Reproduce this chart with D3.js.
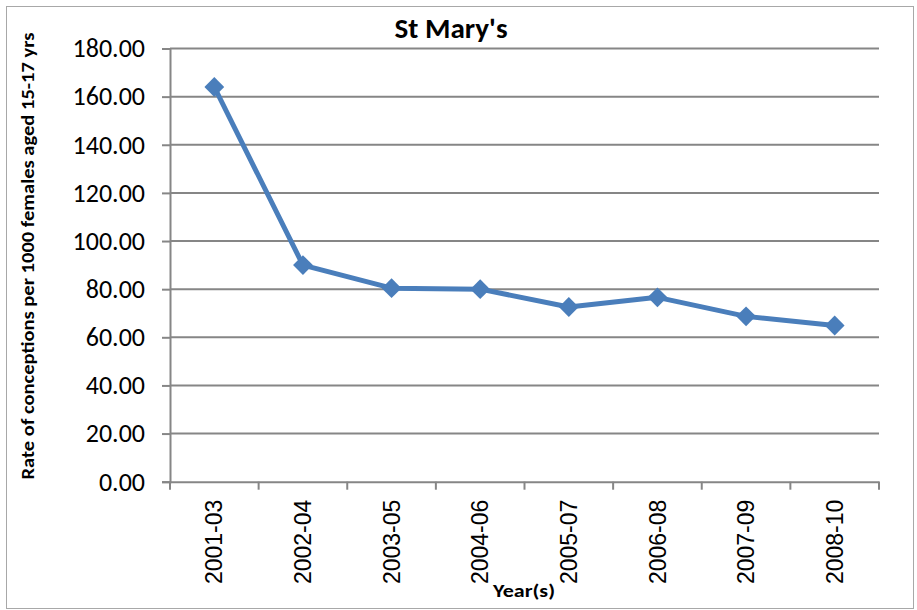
<!DOCTYPE html>
<html>
<head>
<meta charset="utf-8">
<script src="https://cdn.jsdelivr.net/npm/d3@7"></script>
<style>
  body { margin: 0; background: #fff; }
  svg { display: block; }
</style>
</head>
<body>
<svg></svg>
<script>
// data
var years = ["2001-03", "2002-04", "2003-05", "2004-06", "2005-07", "2006-08", "2007-09", "2008-10"];
var rates = [164.0, 90.0, 80.4, 80.0, 72.6, 76.6, 68.7, 64.9];
var yTicks = [0, 20, 40, 60, 80, 100, 120, 140, 160, 180];

var width = 917, height = 610;
var plotLeft = 170, plotRight = 879, plotTop = 48.5, plotBottom = 481.7;
var blue = "#4a7ebb", grid = "#868686";
var calibri = "Carlito, 'Open Sans', 'Liberation Sans', sans-serif";

var svg = d3.select("svg").attr("width", width).attr("height", height);

// chart border
svg.append("rect")
    .attr("x", 6.5).attr("y", 6.5)
    .attr("width", width - 10).attr("height", height - 8)
    .attr("fill", "none").attr("stroke", "#a8a8a8").attr("stroke-width", 1);

var x = d3.scaleBand().domain(years).range([plotLeft, plotRight]);
var y = d3.scaleLinear().domain([0, 180]).range([plotBottom, plotTop]);

// horizontal gridlines
svg.append("g")
    .selectAll("line")
    .data(yTicks.filter(d => d > 0))
    .enter()
    .append("line")
    .attr("x1", plotLeft).attr("x2", plotRight)
    .attr("y1", d => y(d)).attr("y2", d => y(d))
    .attr("stroke", grid).attr("stroke-width", 2);

// y axis
var yAxis = svg.append("g")
    .attr("transform", "translate(" + plotLeft + ",0)")
    .call(d3.axisLeft(y).tickValues(yTicks).tickSize(8).tickPadding(17)
        .tickFormat(d3.format(".2f")));
yAxis.select(".domain").attr("stroke", grid).attr("stroke-width", 2);
yAxis.selectAll(".tick line").attr("stroke", grid).attr("stroke-width", 2);
yAxis.selectAll(".tick text")
    .attr("font-family", calibri).attr("font-size", 26).attr("fill", "#000");

// x axis
var xAxis = svg.append("g")
    .attr("transform", "translate(0," + plotBottom + ")")
    .call(d3.axisBottom(x).tickSize(0).tickPadding(0));
xAxis.select(".domain").attr("stroke", grid).attr("stroke-width", 2);
xAxis.selectAll(".tick text")
    .attr("font-family", "'Liberation Sans', Arial, sans-serif")
    .attr("font-size", 23).attr("fill", "#000")
    .attr("text-anchor", "end")
    .attr("transform", "translate(0,18) rotate(-90)")
    .attr("dy", "0.35em").attr("x", 0).attr("y", 0);

// category boundary ticks
svg.append("g")
    .selectAll("line")
    .data(d3.range(years.length + 1))
    .enter()
    .append("line")
    .attr("x1", i => plotLeft + i * x.step()).attr("x2", i => plotLeft + i * x.step())
    .attr("y1", plotBottom).attr("y2", plotBottom + 8)
    .attr("stroke", grid).attr("stroke-width", 2);

// line series
var cx = d => x(d) + x.bandwidth() / 2;
svg.append("path")
    .datum(years)
    .attr("fill", "none")
    .attr("stroke", blue)
    .attr("stroke-width", 5)
    .attr("stroke-linejoin", "round")
    .attr("d", d3.line().x(d => cx(d)).y((d, i) => y(rates[i])));

// diamond markers
svg.append("g")
    .selectAll("path")
    .data(years)
    .enter()
    .append("path")
    .attr("transform", (d, i) => "translate(" + cx(d) + "," + y(rates[i]) + ") rotate(45)")
    .attr("d", "M-7,-7L7,-7L7,7L-7,7Z")
    .attr("fill", blue);

// titles
svg.append("text")
    .attr("x", 451).attr("y", 38)
    .attr("text-anchor", "middle")
    .attr("font-family", calibri).attr("font-size", 28).attr("font-weight", "bold")
    .attr("textLength", 113).attr("lengthAdjust", "spacingAndGlyphs")
    .text("St Mary's");

svg.append("text")
    .attr("transform", "translate(34,256) rotate(-90)")
    .attr("text-anchor", "middle")
    .attr("font-family", calibri).attr("font-size", 19).attr("font-weight", "bold")
    .attr("textLength", 447).attr("lengthAdjust", "spacingAndGlyphs")
    .text("Rate of conceptions per 1000 females aged 15-17 yrs");

svg.append("text")
    .attr("x", 524).attr("y", 597)
    .attr("text-anchor", "middle")
    .attr("font-family", calibri).attr("font-size", 19).attr("font-weight", "bold")
    .attr("textLength", 62).attr("lengthAdjust", "spacingAndGlyphs")
    .text("Year(s)");
</script>
</body>
</html>
